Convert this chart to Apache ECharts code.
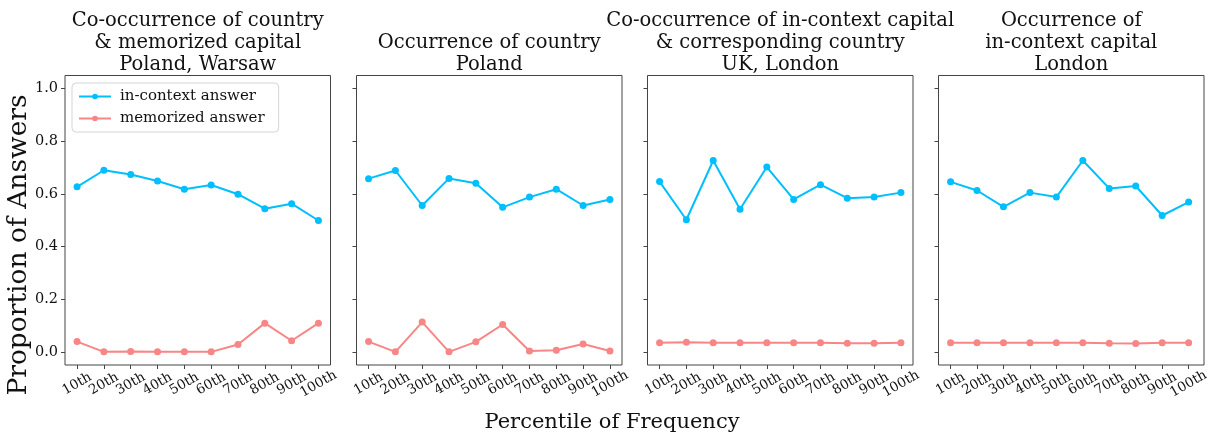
<!DOCTYPE html>
<html>
<head>
<meta charset="utf-8">
<script src="https://cdn.jsdelivr.net/npm/echarts@6/dist/echarts.min.js"></script>
<style>
html,body{margin:0;padding:0;background:#fff;}
#chart{width:1212px;height:439px;}
</style>
</head>
<body>
<div id="chart"></div>
<script>
const percentiles = ['10th','20th','30th','40th','50th','60th','70th','80th','90th','100th'];
const yTicks = [0, 0.2, 0.4, 0.6, 0.8, 1.0];
const panelTitles = [
  'Co-occurrence of country\n& memorized capital\nPoland, Warsaw',
  'Occurrence of country\nPoland',
  'Co-occurrence of in-context capital\n& corresponding country\nUK, London',
  'Occurrence of\nin-context capital\nLondon'
];
const seriesNames = ['in-context answer', 'memorized answer'];

const p1InContext = [0.627, 0.690, 0.674, 0.649, 0.618, 0.634, 0.599, 0.544, 0.563, 0.499];
const p1Memorized = [0.039, 0.000, 0.001, 0.000, 0.000, 0.000, 0.028, 0.109, 0.042, 0.109];
const p2InContext = [0.658, 0.689, 0.556, 0.659, 0.641, 0.549, 0.588, 0.618, 0.556, 0.579];
const p2Memorized = [0.039, 0.000, 0.113, 0.000, 0.038, 0.104, 0.003, 0.006, 0.030, 0.003];
const p3InContext = [0.647, 0.502, 0.727, 0.542, 0.702, 0.579, 0.635, 0.584, 0.588, 0.605];
const p3Memorized = [0.035, 0.036, 0.035, 0.035, 0.035, 0.035, 0.035, 0.033, 0.033, 0.035];
const p4InContext = [0.646, 0.613, 0.551, 0.605, 0.588, 0.727, 0.621, 0.630, 0.518, 0.569];
const p4Memorized = [0.035, 0.035, 0.035, 0.035, 0.035, 0.035, 0.033, 0.032, 0.035, 0.035];

const panels = [
  [p1InContext, p1Memorized],
  [p2InContext, p2Memorized],
  [p3InContext, p3Memorized],
  [p4InContext, p4Memorized]
];
const colors = ['#00BFFF', '#F88686'];
const FONT = 'DejaVu Serif';
const gridLefts = [65, 356.5, 647.5, 938.5];
const gridW = 265.5;
const gridTop = 75.5;
const gridH = 289.5;
const step = gridW / 9.9;          // matplotlib 5% x-margins
const titleLines = panelTitles.map(t => t.split('\n').length);

const frameGrids = gridLefts.map(l => ({
  left: l, top: gridTop, width: gridW, height: gridH,
  show: true, borderColor: '#444', borderWidth: 1, backgroundColor: 'transparent'
}));
const dataGrids = gridLefts.map(l => ({
  left: l + 0.45 * step, top: gridTop, width: 9 * step, height: gridH, show: false
}));

const option = {
  animation: false,
  backgroundColor: '#fff',
  title: panelTitles.map((t, i) => ({
    text: t,
    left: gridLefts[i] + gridW / 2,
    top: 10 + (3 - titleLines[i]) * 22,
    textAlign: 'center',
    padding: 0,
    textStyle: {fontFamily: FONT, fontSize: 19.5, fontWeight: 'normal', color: '#111', lineHeight: 22}
  })),
  legend: {
    left: 72, top: 83,
    orient: 'vertical',
    data: seriesNames,
    itemWidth: 32, itemHeight: 7, itemGap: 7,
    padding: [6, 14, 6, 6],
    backgroundColor: 'rgba(255,255,255,0.8)',
    borderColor: '#d5d5d5', borderWidth: 1, borderRadius: 4,
    textStyle: {fontFamily: FONT, fontSize: 15, color: '#111', padding: [0, 0, 0, 4]}
  },
  grid: frameGrids.concat(dataGrids),
  xAxis: gridLefts.map((_, i) => ({
    gridIndex: i, type: 'value', show: false, min: 0, max: 1
  })).concat(gridLefts.map((_, i) => ({
    gridIndex: 4 + i, type: 'category', data: percentiles, boundaryGap: false,
    position: 'bottom',
    splitLine: {show: false},
    axisLine: {show: false, onZero: false},
    axisTick: {show: true, length: 4, interval: 0, lineStyle: {color: '#444'}},
    axisLabel: {
      interval: 0,
      rotate: 30, align: 'center', verticalAlign: 'middle', margin: 19,
      fontFamily: FONT, fontSize: 13.5, color: '#111'
    }
  }))),
  yAxis: gridLefts.map((_, i) => ({
    gridIndex: i, type: 'value', min: -0.05, max: 1.05,
    position: 'left',
    splitLine: {show: false},
    axisLine: {show: false, onZero: false},
    axisTick: {show: true, length: 4, lineStyle: {color: '#444'}, customValues: yTicks},
    axisLabel: {
      show: i === 0,
      customValues: yTicks,
      formatter: v => v.toFixed(1),
      margin: 7,
      fontFamily: FONT, fontSize: 14.5, color: '#111'
    }
  })).concat(gridLefts.map((_, i) => ({
    gridIndex: 4 + i, type: 'value', min: -0.05, max: 1.05, show: false,
    splitLine: {show: false}
  }))),
  graphic: [
    {type: 'text', style: {text: 'Proportion of Answers', fontFamily: FONT, fontSize: 26.5, fill: '#111', textAlign: 'center', textVerticalAlign: 'middle'}, rotation: Math.PI / 2, x: 19, y: 245},
    {type: 'text', style: {text: 'Percentile of Frequency', fontFamily: FONT, fontSize: 21, fill: '#111', textAlign: 'center', textVerticalAlign: 'middle'}, x: 612, y: 423}
  ],
  series: []
};

panels.forEach((pair, i) => {
  pair.forEach((vals, j) => {
    option.series.push({
      name: seriesNames[j],
      type: 'line',
      xAxisIndex: 4 + i, yAxisIndex: 4 + i,
      data: vals,
      symbol: 'circle', symbolSize: 7,
      lineStyle: {width: 2, color: colors[j]},
      itemStyle: {color: colors[j]},
      z: 3 - j
    });
  });
});

const chart = echarts.init(document.getElementById('chart'), null, {renderer: 'canvas'});
chart.setOption(option);
</script>
</body>
</html>
